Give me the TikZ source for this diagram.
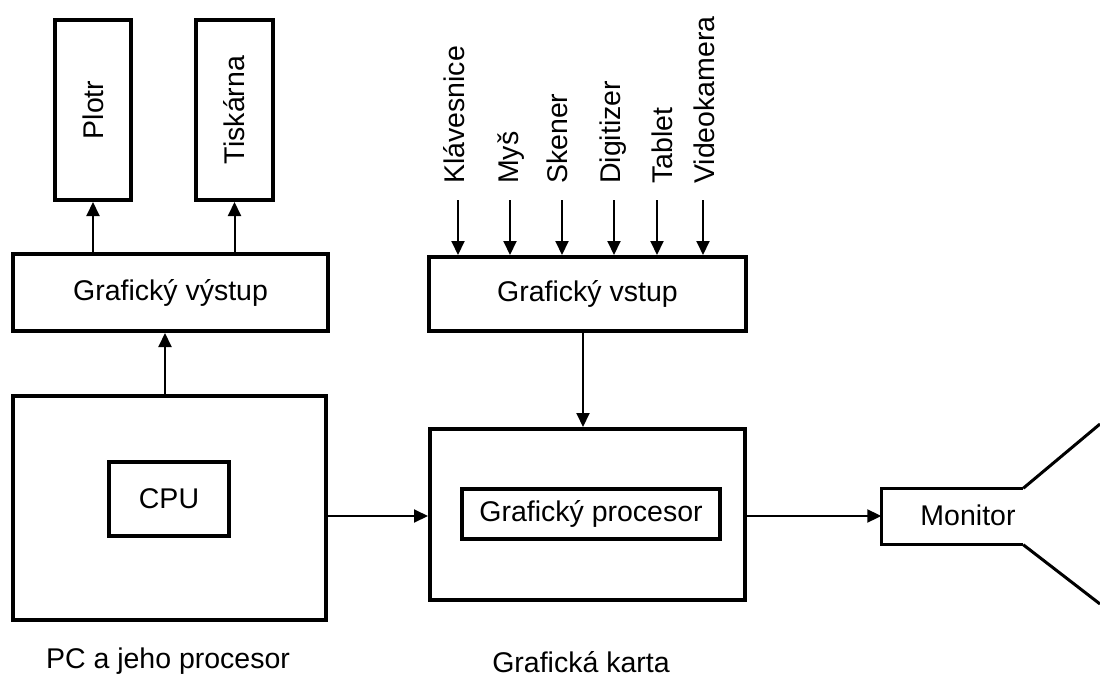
\documentclass[tikz,border=0pt]{standalone}
\usepackage{fontspec}
\setmainfont{Liberation Sans}
\usetikzlibrary{arrows.meta}
\begin{document}
\begin{tikzpicture}[x=1pt,y=-1pt,
  font=\fontsize{28.5}{34}\selectfont,
  box/.style={draw, line width=4pt, rectangle, inner sep=0pt},
  mbox/.style={line width=3pt},
  arr/.style={line width=2pt, -{Triangle[length=14pt,width=13pt]}},
  lbl/.style={rotate=90, anchor=west, inner sep=0pt},
  captext/.style={inner sep=0pt}]
\useasboundingbox (0,0) rectangle (1100,677);
% output side
\node[box, minimum width=76, minimum height=180] (plotr) at (93,110) {\rotatebox{90}{Plotr}};
\node[box, minimum width=77, minimum height=180] (tisk) at (234.5,110) {\rotatebox{90}{Tiskárna}};
\node[box, minimum width=315, minimum height=77] (vystup) at (170.5,292.5) {Grafický výstup};
\node[box, minimum width=313, minimum height=224] (pc) at (169.5,508) {};
\node[box, line width=3.5pt, minimum width=120, minimum height=74] (cpu) at (169,499) {CPU};
\node[captext] (pclbl) at (168,661) {PC a jeho procesor};
% input side
\node[box, minimum width=317, minimum height=74] (vstup) at (587.5,294) {Grafický vstup};
\node[box, minimum width=315, minimum height=171] (card) at (587.5,514.5) {};
\node[box, line width=3.5pt, minimum width=258, minimum height=50] (proc) at (591,514) {Grafický procesor};
\node[captext] (cardlbl) at (581,662) {Grafická karta};
% input devices
\node[lbl] (klav) at (454,184) {Klávesnice};
\node[lbl] (mys) at (511,184) {Myš};
\node[lbl] (sken) at (557,184) {Skener};
\node[lbl] (digi) at (613,184) {Digitizer};
\node[lbl] (tab) at (662,184) {Tablet};
\node[lbl] (video) at (704,184) {Videokamera};
\coordinate (ka) at (458,200);
\coordinate (ma) at (510,200);
\coordinate (sa) at (562,200);
\coordinate (da) at (614,200);
\coordinate (ta) at (657,200);
\coordinate (va) at (703,200);
\foreach \c in {ka,ma,sa,da,ta,va}
  \draw[arr] (\c) -- (\c |- vstup.north);
% monitor
\node[rectangle, inner sep=0pt, minimum width=141.5, minimum height=56] (monitor) at (952.25,516.5) {};
\node (monlbl) at (968,515) {Monitor};
\coordinate (scrtop) at (1100,424);
\coordinate (scrbot) at (1100,604);
\draw[mbox] (monitor.north east) -- (monitor.north west) -- (monitor.south west) -- (monitor.south east);
\draw[mbox] (monitor.north east) -- (scrtop);
\draw[mbox] (monitor.south east) -- (scrbot);
% connectors
\draw[arr] (plotr.south |- vystup.north) -- (plotr.south);
\draw[arr] (tisk.south |- vystup.north) -- (tisk.south);
\draw[arr] ([xshift=-4.5pt]pc.north) -- ([xshift=-4.5pt]pc.north |- vystup.south);
\draw[arr] ([xshift=-4.5pt]vstup.south) -- ([xshift=-4.5pt]vstup.south |- card.north);
\draw[arr] ([yshift=-8pt]pc.east) -- ([yshift=-8pt]pc.east -| card.west);
\draw[arr] ([yshift=-1.5pt]card.east) -- ([yshift=-1.5pt]card.east -| monitor.west);
\end{tikzpicture}
\end{document}
